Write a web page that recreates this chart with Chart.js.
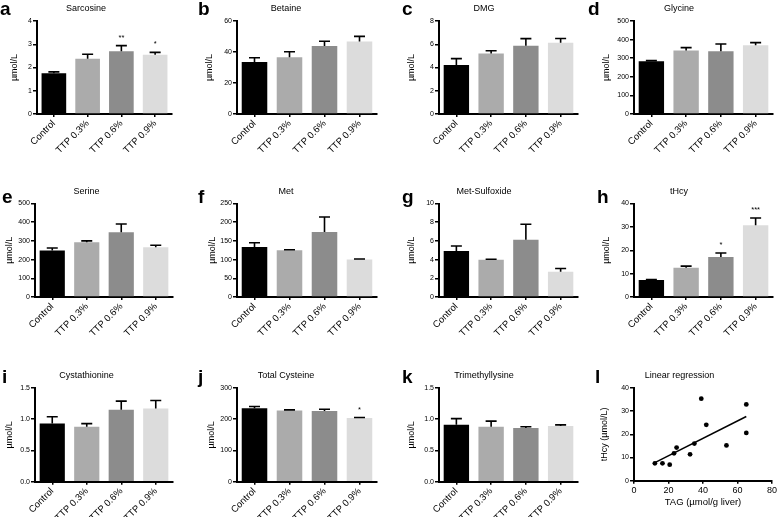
<!DOCTYPE html>
<html><head><meta charset="utf-8">
<script src="https://cdn.jsdelivr.net/npm/chart.js@4.4.1/dist/chart.umd.min.js"></script>
<style>
html,body{margin:0;padding:0;background:#fff;width:778px;height:517px;overflow:hidden;position:relative;}
canvas{position:absolute;}
</style></head><body>
<script>
// ---------- DATA ----------
const groups = ['Control', 'TTP 0.3%', 'TTP 0.6%', 'TTP 0.9%'];

const sarcosineMean = [1.75, 2.38, 2.70, 2.55];
const sarcosineSem  = [0.06, 0.19, 0.24, 0.10];
const sarcosineSig  = ['', '', '**', '*'];
const sarcosineTicks = [0, 1, 2, 3, 4];

const betaineMean = [33.5, 36.6, 43.9, 46.7];
const betaineSem  = [2.8, 3.6, 3.0, 3.4];
const betaineTicks = [0, 20, 40, 60];

const dmgMean = [4.21, 5.21, 5.87, 6.13];
const dmgSem  = [0.55, 0.23, 0.61, 0.37];
const dmgTicks = [0, 2, 4, 6, 8];

const glycineMean = [283, 342, 337, 369];
const glycineSem  = [4, 15, 39, 15];
const glycineTicks = [0, 100, 200, 300, 400, 500];

const serineMean = [248, 293, 346, 266];
const serineSem  = [14, 7, 44, 11];
const serineTicks = [0, 100, 200, 300, 400, 500];

const metMean = [134, 125, 174, 100];
const metSem  = [11, 1.5, 40, 1.5];
const metTicks = [0, 50, 100, 150, 200, 250];

const metSulfoxideMean = [4.91, 3.98, 6.13, 2.69];
const metSulfoxideSem  = [0.54, 0.05, 1.65, 0.36];
const metSulfoxideTicks = [0, 2, 4, 6, 8, 10];

const thcyMean = [7.3, 12.5, 17.1, 30.7];
const thcySem  = [0.2, 0.7, 1.7, 3.1];
const thcySig  = ['', '', '*', '***'];
const thcyTicks = [0, 10, 20, 30, 40];

const cystathionineMean = [0.93, 0.88, 1.15, 1.17];
const cystathionineSem  = [0.11, 0.05, 0.14, 0.13];
const cystathionineTicks = [0.0, 0.5, 1.0, 1.5];

const totalCysteineMean = [235, 228, 226, 204];
const totalCysteineSem  = [6, 2, 6, 1.5];
const totalCysteineSig  = ['', '', '', '*'];
const totalCysteineTicks = [0, 100, 200, 300];

const trimethyllysineMean = [0.91, 0.88, 0.86, 0.89];
const trimethyllysineSem  = [0.10, 0.09, 0.02, 0.02];
const trimethyllysineTicks = [0.0, 0.5, 1.0, 1.5];

// Linear regression panel
const tagValues  = [12.1, 16.5, 20.7, 23.2, 24.7, 32.5, 35.0, 39.0, 41.9, 53.6, 65.1, 65.1];
const thcyValues = [7.5, 7.5, 6.9, 11.8, 14.3, 11.4, 16.0, 35.4, 24.1, 15.2, 32.9, 20.6];
const fitLineX = [12.1, 65.1];
const fitLineY = [7.8, 27.7];
const regressionXTicks = [0, 20, 40, 60, 80];
const regressionYTicks = [0, 10, 20, 30, 40];

// ---------- STYLE / LAYOUT ----------
const FONT = "'Liberation Sans', Arial, Helvetica, sans-serif";
Chart.defaults.font.family = FONT;
Chart.defaults.color = '#000';
const barColors = ['#000000', '#ababab', '#8c8c8c', '#dcdcdc'];

const rows = [
  {top: 0,   h: 170, aTop: 21,   aBot: 114,   tC: 9,    lB: 15},
  {top: 170, h: 170, aTop: 33.5, aBot: 127,   tC: 22,   lB: 33},
  {top: 340, h: 177, aTop: 48,   aBot: 141.7, tC: 35.7, lB: 43}
];
const cols = [{left: 0, w: 195}, {left: 195, w: 195}, {left: 390, w: 195}, {left: 585, w: 193}];

const panels = [
  {L:'a', title:'Sarcosine', mean:sarcosineMean, sem:sarcosineSem, sig:sarcosineSig, ticks:sarcosineTicks, dec:0, r:0, c:0, al:37, ar:172, yt:15, lx:0},
  {L:'b', title:'Betaine', mean:betaineMean, sem:betaineSem, ticks:betaineTicks, dec:0, r:0, c:1, al:42, ar:182, yt:15, lx:3},
  {L:'c', title:'DMG', mean:dmgMean, sem:dmgSem, ticks:dmgTicks, dec:0, r:0, c:2, al:49, ar:188, yt:22, lx:12},
  {L:'d', title:'Glycine', mean:glycineMean, sem:glycineSem, ticks:glycineTicks, dec:0, r:0, c:3, al:49, ar:188, yt:22, lx:3},
  {L:'e', title:'Serine', mean:serineMean, sem:serineSem, ticks:serineTicks, dec:0, r:1, c:0, al:35, ar:173, yt:10, lx:2},
  {L:'f', title:'Met', mean:metMean, sem:metSem, ticks:metTicks, dec:0, r:1, c:1, al:42, ar:182, yt:18, lx:3},
  {L:'g', title:'Met-Sulfoxide', mean:metSulfoxideMean, sem:metSulfoxideSem, ticks:metSulfoxideTicks, dec:0, r:1, c:2, al:49, ar:188, yt:22, lx:12},
  {L:'h', title:'tHcy', mean:thcyMean, sem:thcySem, sig:thcySig, ticks:thcyTicks, dec:0, r:1, c:3, al:49, ar:188, yt:22, lx:12},
  {L:'i', title:'Cystathionine', mean:cystathionineMean, sem:cystathionineSem, ticks:cystathionineTicks, dec:1, r:2, c:0, al:35, ar:173, yt:10, lx:2},
  {L:'j', title:'Total Cysteine', mean:totalCysteineMean, sem:totalCysteineSem, sig:totalCysteineSig, ticks:totalCysteineTicks, dec:0, r:2, c:1, al:42, ar:182, yt:17, lx:3},
  {L:'k', title:'Trimethyllysine', mean:trimethyllysineMean, sem:trimethyllysineSem, ticks:trimethyllysineTicks, dec:1, r:2, c:2, al:49, ar:188, yt:22, lx:12}
];

function makeCanvas(r, c) {
  const cv = document.createElement('canvas');
  cv.width = cols[c].w; cv.height = rows[r].h;
  cv.style.left = cols[c].left + 'px'; cv.style.top = rows[r].top + 'px';
  cv.style.width = cols[c].w + 'px'; cv.style.height = rows[r].h + 'px';
  document.body.appendChild(cv);
  return cv;
}

function titleOpts(text, row) {
  const size = 9, lh = size * 1.2;
  const pt = row.tC - lh / 2;
  return {display: true, text, color: '#000', font: {size, family: FONT, weight: 'normal', lineHeight: 1.2},
          padding: {top: pt, bottom: row.aTop - pt - lh}};
}

function letterPlugin(letter, x, y) {
  return {
    id: 'panelLetter',
    afterDraw(chart) {
      const ctx = chart.ctx;
      ctx.save();
      ctx.fillStyle = '#000';
      ctx.font = 'bold 19px ' + FONT;
      ctx.textAlign = 'left'; ctx.textBaseline = 'alphabetic';
      ctx.fillText(letter, x, y);
      ctx.restore();
    }
  };
}

function errorPlugin(p) {
  return {
    id: 'errorBars',
    afterDatasetsDraw(chart) {
      const ctx = chart.ctx, ys = chart.scales.y;
      const meta = chart.getDatasetMeta(0);
      ctx.save();
      ctx.strokeStyle = '#000'; ctx.lineWidth = 1.6;
      meta.data.forEach((bar, i) => {
        const yTop = ys.getPixelForValue(p.mean[i] + p.sem[i]);
        const yMid = ys.getPixelForValue(p.mean[i]);
        ctx.beginPath();
        ctx.moveTo(bar.x, yMid); ctx.lineTo(bar.x, yTop);
        ctx.moveTo(bar.x - 5.5, yTop); ctx.lineTo(bar.x + 5.5, yTop);
        ctx.stroke();
        if (p.sig && p.sig[i]) {
          ctx.fillStyle = '#000';
          ctx.font = '7.5px ' + FONT;
          ctx.textAlign = 'center'; ctx.textBaseline = 'alphabetic';
          ctx.fillText(p.sig[i], bar.x, yTop - 6);
        }
      });
      ctx.restore();
    }
  };
}

panels.forEach(p => {
  const row = rows[p.r], col = cols[p.c];
  const cv = makeCanvas(p.r, p.c);
  const t = p.ticks;
  new Chart(cv, {
    type: 'bar',
    data: {labels: groups, datasets: [{data: p.mean, backgroundColor: barColors, borderWidth: 0,
           barPercentage: 0.73, categoryPercentage: 1}]},
    options: {
      responsive: false, animation: false, devicePixelRatio: 1,
      layout: {padding: {left: 0, top: 0, right: col.w - p.ar, bottom: 0}},
      plugins: {legend: {display: false}, tooltip: {enabled: false}, title: titleOpts(p.title, row)},
      scales: {
        x: {
          type: 'category', offset: true,
          ticks: {font: {size: 9.5, family: FONT}, color: '#000', maxRotation: 45, minRotation: 45, padding: 1, autoSkip: false},
          grid: {offset: false, drawOnChartArea: false, drawTicks: true, tickLength: 3, color: '#000', lineWidth: 1.5},
          border: {display: true, color: '#000', width: 2},
          afterFit: s => { s.height = row.h - row.aBot; }
        },
        y: {
          min: t[0], max: t[t.length - 1],
          ticks: {stepSize: t[1] - t[0], font: {size: 7, family: FONT}, color: '#000', padding: 1,
                  callback: v => p.dec ? Number(v).toFixed(p.dec) : v},
          grid: {drawOnChartArea: false, drawTicks: true, tickLength: 4, color: '#000', lineWidth: 1.5},
          border: {display: true, color: '#000', width: 2},
          title: {display: true, text: 'µmol/L', color: '#000', font: {size: 9, family: FONT, lineHeight: 1.2},
                  padding: {top: p.yt - 5.4, bottom: 0}},
          afterFit: s => { s.width = p.al; }
        }
      }
    },
    plugins: [errorPlugin(p), letterPlugin(p.L, p.lx, row.lB)]
  });
});

// Panel l : linear regression
(function () {
  const row = rows[2], col = cols[3];
  const cv = makeCanvas(2, 3);
  const al = 49, ar = 189, aBot = 140.7;
  new Chart(cv, {
    type: 'scatter',
    data: {datasets: [
      {type: 'line', data: fitLineX.map((x, i) => ({x, y: fitLineY[i]})), borderColor: '#000', borderWidth: 1.5,
       pointRadius: 0, fill: false, tension: 0},
      {data: tagValues.map((x, i) => ({x, y: thcyValues[i]})), backgroundColor: '#000', borderColor: '#000',
       pointRadius: 2.4, borderWidth: 0}
    ]},
    options: {
      responsive: false, animation: false, devicePixelRatio: 1,
      layout: {padding: {left: 0, top: 0, right: col.w - ar, bottom: 0}},
      plugins: {legend: {display: false}, tooltip: {enabled: false}, title: titleOpts('Linear regression', row)},
      scales: {
        x: {
          type: 'linear', min: regressionXTicks[0], max: regressionXTicks[regressionXTicks.length - 1],
          ticks: {stepSize: regressionXTicks[1] - regressionXTicks[0], font: {size: 9, family: FONT}, color: '#000', padding: 1, maxRotation: 0},
          grid: {drawOnChartArea: false, drawTicks: true, tickLength: 3, color: '#000', lineWidth: 1.5},
          border: {display: true, color: '#000', width: 2},
          title: {display: true, text: 'TAG (µmol/g liver)', color: '#000', font: {size: 9.5, family: FONT, lineHeight: 1.2},
                  padding: {top: 0, bottom: 9.3}},
          afterFit: s => { s.height = row.h - aBot; }
        },
        y: {
          min: regressionYTicks[0], max: regressionYTicks[regressionYTicks.length - 1],
          ticks: {stepSize: regressionYTicks[1] - regressionYTicks[0], font: {size: 7, family: FONT}, color: '#000', padding: 1},
          grid: {drawOnChartArea: false, drawTicks: true, tickLength: 4, color: '#000', lineWidth: 1.5},
          border: {display: true, color: '#000', width: 2},
          title: {display: true, text: 'tHcy (µmol/L)', color: '#000', font: {size: 9, family: FONT, lineHeight: 1.2},
                  padding: {top: 20 - 5.4, bottom: 0}},
          afterFit: s => { s.width = al; }
        }
      }
    },
    plugins: [letterPlugin('l', 10, row.lB)]
  });
})();
</script>
</body></html>
